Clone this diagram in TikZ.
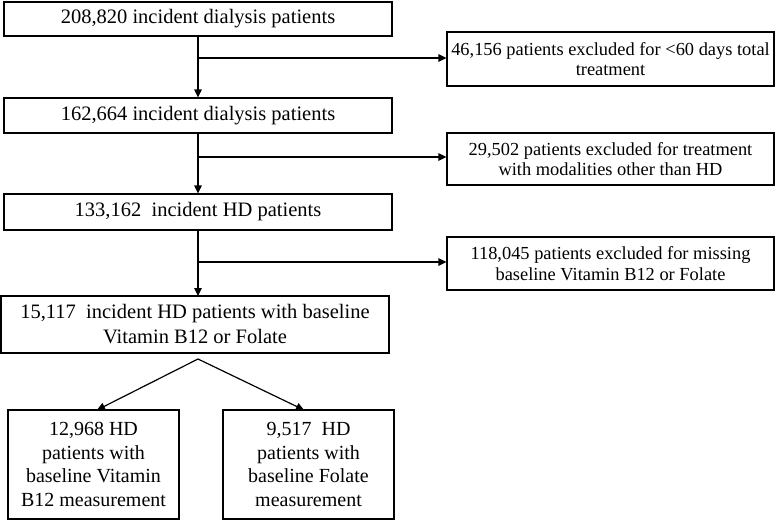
\documentclass[tikz,border=0pt]{standalone}
\usepackage{fontspec}
\setmainfont{Liberation Serif}
\usetikzlibrary{arrows.meta,calc}
\tikzset{
  mainbox/.style={draw=black,line width=1.2pt,rectangle,inner sep=0pt,align=center,
    font=\fontsize{20.5}{25}\selectfont},
  exclbox/.style={draw=black,line width=1.2pt,rectangle,inner sep=0pt,align=center,
    font=\fontsize{18.4}{20.5}\selectfont},
  leafbox/.style={draw=black,line width=1.2pt,rectangle,inner sep=0pt,align=center,
    font=\fontsize{20}{23.7}\selectfont},
  flow/.style={draw=black,line width=1.2pt,-{Triangle[length=8pt,width=7.5pt]}}
}
\begin{document}
\begin{tikzpicture}[x=1pt,y=-1pt]
\useasboundingbox[fill=white] (0,0) rectangle (776,522);
\node[mainbox,minimum width=388pt,minimum height=34pt] (b1) at (198,19) {208,820 incident dialysis patients};
\node[mainbox,minimum width=388pt,minimum height=35pt] (b2) at (198,115.5) {162,664 incident dialysis patients};
\node[mainbox,minimum width=388pt,minimum height=36pt] (b3) at (198,212) {133,162\ \ incident HD patients};
\node[mainbox,minimum width=388pt,minimum height=57pt] (b4) at (195,324.5) {15,117\ \ incident HD patients with baseline\\Vitamin B12 or Folate};
\node[exclbox,minimum width=327pt,minimum height=54pt] (e1) at (610.5,59) {46,156 patients excluded for <60 days total\\treatment};
\node[exclbox,minimum width=327pt,minimum height=52pt] (e2) at (610.5,159) {29,502 patients excluded for treatment\\with modalities other than HD};
\node[exclbox,minimum width=327pt,minimum height=53pt] (e3) at (610.5,263.5) {118,045 patients excluded for missing\\baseline Vitamin B12 or Folate};
\node[leafbox,minimum width=171pt,minimum height=109pt] (b5) at (93.5,464.5) {12,968 HD\\patients with\\baseline Vitamin\\B12 measurement};
\node[leafbox,minimum width=171pt,minimum height=109pt] (b6) at (308.5,464.5) {9,517\ \ HD\\patients with\\baseline Folate\\measurement};
\coordinate (apex) at (198,359);
\coordinate (t5) at (97,410);
\coordinate (t6) at (304,410);
\draw[flow] (b1.south) -- (b2.north);
\draw[flow] (b2.south) -- (b3.north);
\draw[flow] (b1.south |- 0,58) coordinate (j1) -- (j1 -| e1.west);
\draw[flow] (b2.south |- 0,157) coordinate (j2) -- (j2 -| e2.west);
\draw[flow] (b3.south |- 0,262) coordinate (j3) -- (j3 -| e3.west);
\draw[flow] (b3.south) -- (198,296);
\draw[flow] (apex) -- (t5);
\draw[flow] (apex) -- (t6);
\end{tikzpicture}
\end{document}
